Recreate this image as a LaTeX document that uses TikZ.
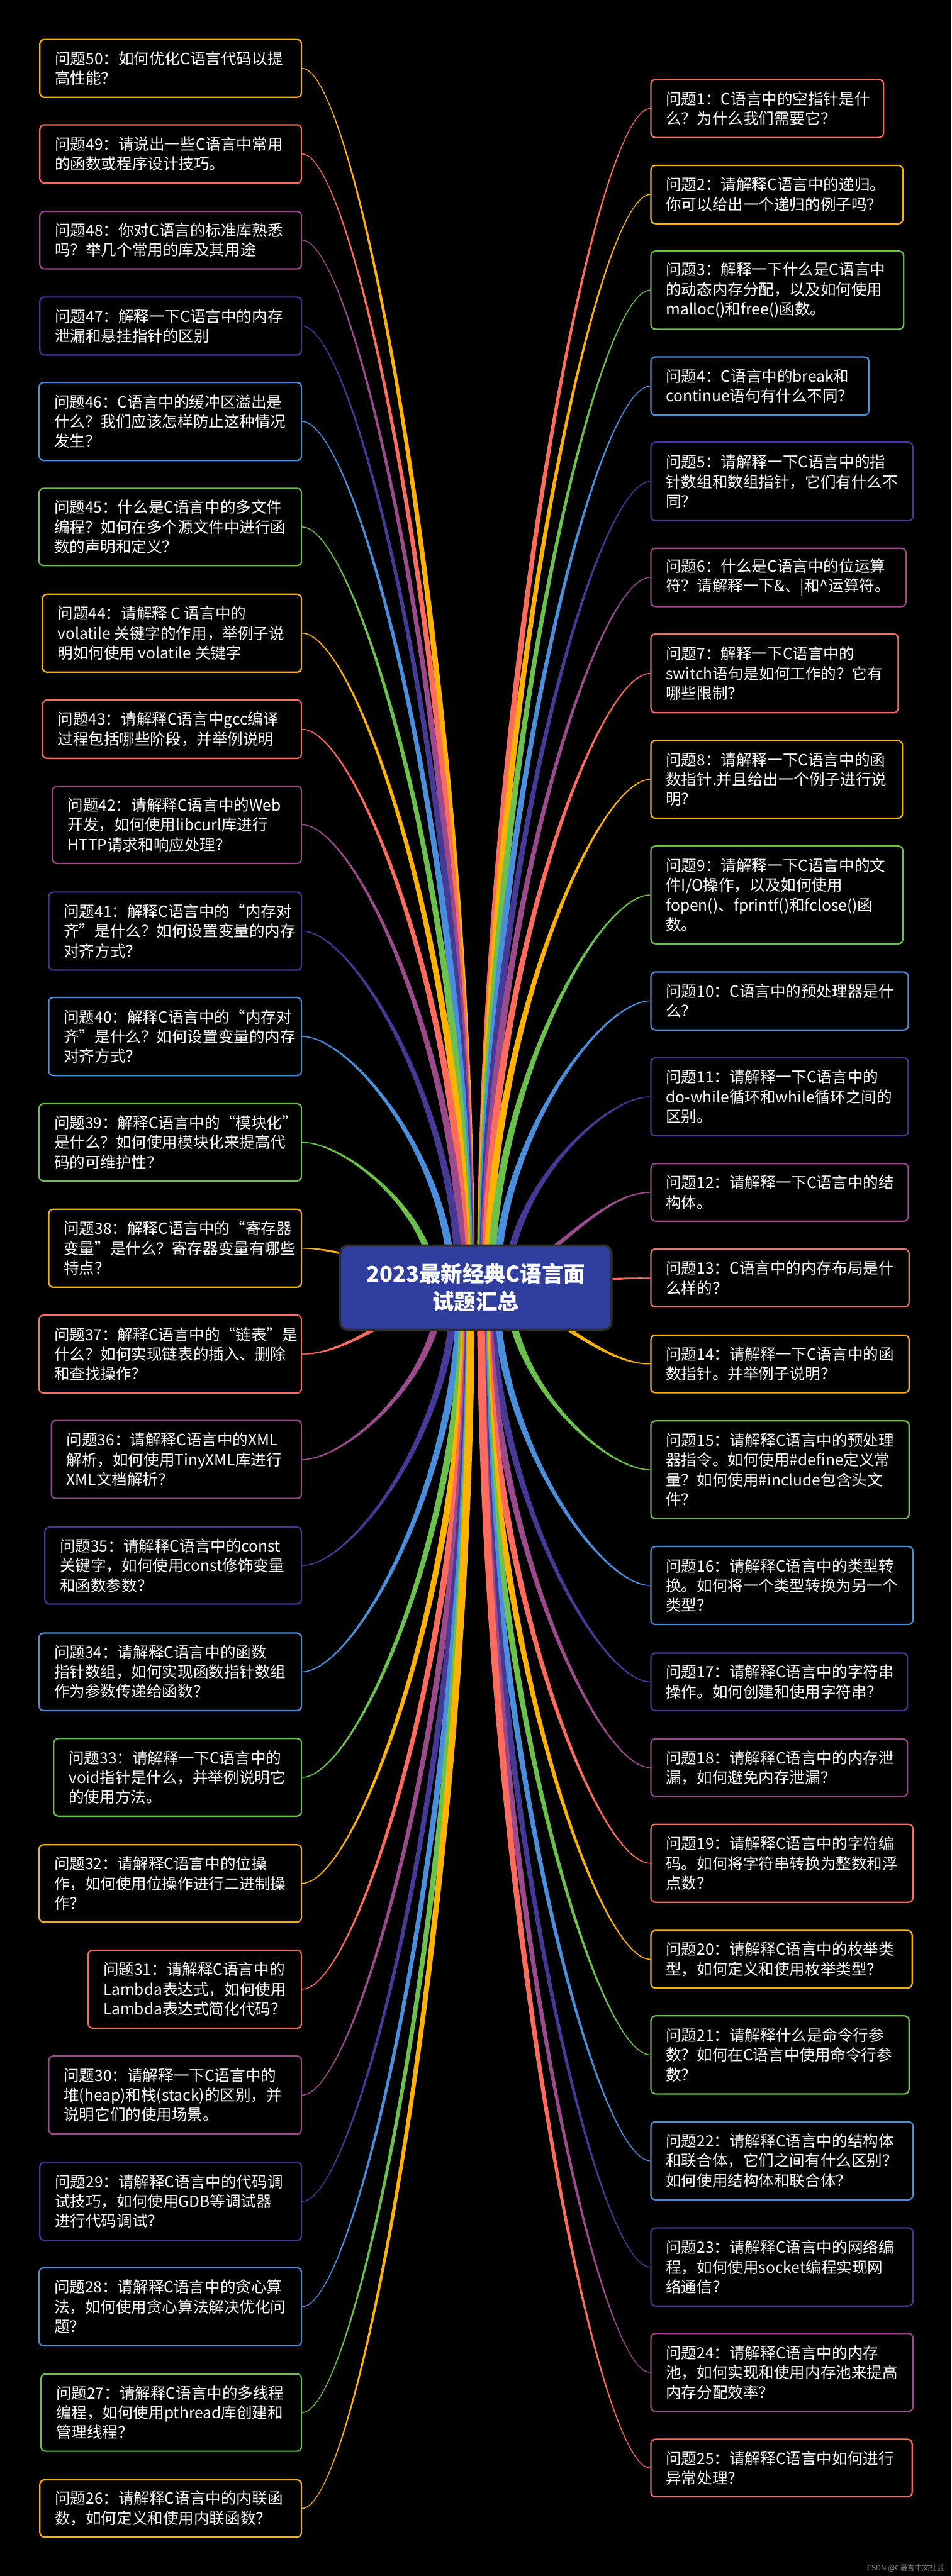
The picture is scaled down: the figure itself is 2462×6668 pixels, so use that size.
\documentclass[tikz,border=0pt]{standalone}
\usepackage{fontspec}
\setmainfont{Noto Sans CJK SC}
\usetikzlibrary{calc,fit}
\definecolor{cO}{HTML}{FFB300}
\definecolor{cR}{HTML}{FF6B5C}
\definecolor{cP}{HTML}{9B4A8C}
\definecolor{cI}{HTML}{453A96}
\definecolor{cB}{HTML}{4A8FDB}
\definecolor{cG}{HTML}{6CC04C}
\definecolor{hubfill}{HTML}{303F9F}
\definecolor{hubedge}{HTML}{2D2D2D}
\definecolor{wmgray}{HTML}{8A8A8A}
\tikzset{
 qbox/.style={rectangle, rounded corners=3pt, line width=0.9pt, inner sep=0pt},
 qtext/.style={align=left, text=white, inner sep=0pt, font=\fontsize{10pt}{12.75pt}\selectfont},
}
\newcommand\qbx[7]{%
 \node[qbox, draw=#2, fit={(#3,#4) (#5,#6)}] (#1) {};
 \node[qtext, anchor=west] (#1t) at ([xshift=10pt]#1.west) {#7};
}
\newcommand\qconn[4]{%
 \pgfpointanchor{#1}{#2}\pgfgetlastxy{\cnbxr}{\cnbyr}%
 \pgfpointanchor{hub}{center}\pgfgetlastxy{\cnhxr}{\cnhyr}%
 \pgfmathsetmacro\cnbx{\cnbxr}\pgfmathsetmacro\cnby{\cnbyr}%
 \pgfmathsetmacro\cnhx{\cnhxr}\pgfmathsetmacro\cnhy{\cnhyr}%
 \pgfmathsetmacro\cnady{abs(\cnhy-\cnby)}%
 \pgfmathsetmacro\cnsu{\cnhy>\cnby ? 1 : -1}%
 \def\cnw{0.28}\def\cnwp{0.85}\def\cnW{2.5}%
 \pgfmathsetmacro\cnBRy{\cnby-(#3)*\cnw}%
 \pgfmathsetmacro\cnBLy{\cnby+(#3)*\cnw}%
 \pgfmathsetmacro\cnPRy{\cnby-(#3)*\cnwp}%
 \pgfmathsetmacro\cnPLy{\cnby+(#3)*\cnwp}%
 \ifdim\cnady pt<75pt
   \pgfmathsetmacro\cnpx{\cnbx+0.33*(\cnhx-\cnbx)}%
   \pgfmathsetmacro\cnqx{\cnhx-0.33*(\cnhx-\cnbx)}%
   \pgfmathsetmacro\cnERy{\cnhy-(#3)*\cnW}%
   \pgfmathsetmacro\cnELy{\cnhy+(#3)*\cnW}%
   \fill[#4] (\cnbx pt,\cnBRy pt) .. controls (\cnpx pt,\cnPRy pt) and (\cnqx pt,\cnERy pt) .. (\cnhx pt,\cnERy pt) -- (\cnhx pt,\cnELy pt) .. controls (\cnqx pt,\cnELy pt) and (\cnpx pt,\cnPLy pt) .. (\cnbx pt,\cnBLy pt) -- cycle;
 \else
   \pgfmathsetmacro\cnex{\cnhx-(#3)*2500/\cnady}%
   \pgfmathsetmacro\cnpx{\cnbx+0.33*(\cnex-\cnbx)}%
   \pgfmathsetmacro\cnqy{(\cnby+\cnhy)/2}%
   \pgfmathsetmacro\cnERx{\cnex+\cnsu*\cnW}%
   \pgfmathsetmacro\cnELx{\cnex-\cnsu*\cnW}%
   \fill[#4] (\cnbx pt,\cnBRy pt) .. controls (\cnpx pt,\cnPRy pt) and (\cnERx pt,\cnqy pt) .. (\cnERx pt,\cnhy pt) -- (\cnELx pt,\cnhy pt) .. controls (\cnELx pt,\cnqy pt) and (\cnpx pt,\cnPLy pt) .. (\cnbx pt,\cnBLy pt) -- cycle;
 \fi
}
\begin{document}
\begin{tikzpicture}[x=0.25pt,y=-0.25pt]
\fill[black] (0,0) rectangle (2462,6668);
\useasboundingbox (0,0) rectangle (2462,6668);
% ---------- left column ----------
\qbx{q50}{cO}{103}{102}{780}{252}{问题50：如何优化C语言代码以提\\高性能？}
\qbx{q49}{cR}{103}{323}{780}{474}{问题49：请说出一些C语言中常用\\的函数或程序设计技巧。}
\qbx{q48}{cP}{103}{547}{780}{696}{问题48：你对C语言的标准库熟悉\\吗？举几个常用的库及其用途}
\qbx{q47}{cI}{103}{769}{780}{919}{问题47：解释一下C语言中的内存\\泄漏和悬挂指针的区别}
\qbx{q46}{cB}{101}{990}{780}{1192}{问题46：C语言中的缓冲区溢出是\\什么？我们应该怎样防止这种情况\\发生？}
\qbx{q45}{cG}{101}{1264}{780}{1464}{问题45：什么是C语言中的多文件\\编程？如何在多个源文件中进行函\\数的声明和定义？}
\qbx{q44}{cO}{110}{1538}{780}{1740}{问题44：请解释 C 语言中的\\volatile 关键字的作用，举例子说\\明如何使用 volatile 关键字}
\qbx{q43}{cR}{110}{1812}{780}{1963}{问题43：请解释C语言中gcc编译\\过程包括哪些阶段，并举例说明}
\qbx{q42}{cP}{136}{2035}{780}{2235}{问题42：请解释C语言中的Web\\开发，如何使用libcurl库进行\\HTTP请求和响应处理？}
\qbx{q41}{cI}{126}{2309}{780}{2511}{问题41：解释C语言中的“内存对\\齐”是什么？如何设置变量的内存\\对齐方式？}
\qbx{q40}{cB}{126}{2582}{780}{2784}{问题40：解释C语言中的“内存对\\齐”是什么？如何设置变量的内存\\对齐方式？}
\qbx{q39}{cG}{101}{2857}{780}{3057}{问题39：解释C语言中的“模块化”\\是什么？如何使用模块化来提高代\\码的可维护性？}
\qbx{q38}{cO}{126}{3130}{780}{3332}{问题38：解释C语言中的“寄存器\\变量”是什么？寄存器变量有哪些\\特点？}
\qbx{q37}{cR}{101}{3404}{780}{3606}{问题37：解释C语言中的“链表”是\\什么？如何实现链表的插入、删除\\和查找操作？}
\qbx{q36}{cP}{133}{3677}{780}{3879}{问题36：请解释C语言中的XML\\解析，如何使用TinyXML库进行\\XML文档解析？}
\qbx{q35}{cI}{116}{3953}{780}{4152}{问题35：请解释C语言中的const\\关键字，如何使用const修饰变量\\和函数参数？}
\qbx{q34}{cB}{101}{4227}{780}{4428}{问题34：请解释C语言中的函数\\指针数组，如何实现函数指针数组\\作为参数传递给函数？}
\qbx{q33}{cG}{139}{4500}{780}{4701}{问题33：请解释一下C语言中的\\void指针是什么，并举例说明它\\的使用方法。}
\qbx{q32}{cO}{101}{4775}{780}{4975}{问题32：请解释C语言中的位操\\作，如何使用位操作进行二进制操\\作？}
\qbx{q31}{cR}{228}{5048}{780}{5250}{问题31：请解释C语言中的\\Lambda表达式，如何使用\\Lambda表达式简化代码？}
\qbx{q30}{cP}{126}{5322}{780}{5524}{问题30：请解释一下C语言中的\\堆(heap)和栈(stack)的区别，并\\说明它们的使用场景。}
\qbx{q29}{cI}{103}{5597}{780}{5799}{问题29：请解释C语言中的代码调\\试技巧，如何使用GDB等调试器\\进行代码调试？}
\qbx{q28}{cB}{101}{5870}{780}{6072}{问题28：请解释C语言中的贪心算\\法，如何使用贪心算法解决优化问\\题？}
\qbx{q27}{cG}{106}{6145}{780}{6345}{问题27：请解释C语言中的多线程\\编程，如何使用pthread库创建和\\管理线程？}
\qbx{q26}{cO}{103}{6419}{780}{6567}{问题26：请解释C语言中的内联函\\数，如何定义和使用内联函数？}
% ---------- right column ----------
\qbx{q1}{cR}{1684}{206}{2286}{356}{问题1：C语言中的空指针是什\\么？为什么我们需要它？}
\qbx{q2}{cO}{1684}{428}{2336}{579}{问题2：请解释C语言中的递归。\\你可以给出一个递归的例子吗？}
\qbx{q3}{cG}{1684}{650}{2338}{852}{问题3：解释一下什么是C语言中\\的动态内存分配，以及如何使用\\malloc()和free()函数。}
\qbx{q4}{cB}{1684}{924}{2248}{1075}{问题4：C语言中的break和\\continue语句有什么不同？}
\qbx{q5}{cI}{1684}{1145}{2362}{1348}{问题5：请解释一下C语言中的指\\针数组和数组指针，它们有什么不\\同？}
\qbx{q6}{cP}{1684}{1419}{2344}{1570}{问题6：什么是C语言中的位运算\\符？请解释一下\&、|和\textasciicircum 运算符。}
\qbx{q7}{cR}{1684}{1641}{2324}{1845}{问题7：解释一下C语言中的\\switch语句是如何工作的？它有\\哪些限制？}
\qbx{q8}{cO}{1684}{1917}{2335}{2118}{问题8：请解释一下C语言中的函\\数指针.并且给出一个例子进行说\\明？}
\qbx{q9}{cG}{1684}{2190}{2336}{2443}{问题9：请解释一下C语言中的文\\件I/O操作，以及如何使用\\fopen()、fprintf()和fclose()函\\数。}
\qbx{q10}{cB}{1684}{2516}{2350}{2666}{问题10：C语言中的预处理器是什\\么？}
\qbx{q11}{cI}{1684}{2738}{2350}{2940}{问题11：请解释一下C语言中的\\do-while循环和while循环之间的\\区别。}
\qbx{q12}{cP}{1684}{3012}{2350}{3161}{问题12：请解释一下C语言中的结\\构体。}
\qbx{q13}{cR}{1684}{3233}{2352}{3383}{问题13：C语言中的内存布局是什\\么样的？}
\qbx{q14}{cO}{1684}{3456}{2352}{3605}{问题14：请解释一下C语言中的函\\数指针。并举例子说明？}
\qbx{q15}{cG}{1684}{3678}{2352}{3931}{问题15：请解释C语言中的预处理\\器指令。如何使用\#define定义常\\量？如何使用\#include包含头文\\件？}
\qbx{q16}{cB}{1684}{4003}{2362}{4205}{问题16：请解释C语言中的类型转\\换。如何将一个类型转换为另一个\\类型？}
\qbx{q17}{cI}{1684}{4279}{2348}{4428}{问题17：请解释C语言中的字符串\\操作。如何创建和使用字符串？}
\qbx{q18}{cP}{1684}{4501}{2348}{4650}{问题18：请解释C语言中的内存泄\\漏，如何避免内存泄漏？}
\qbx{q19}{cR}{1684}{4722}{2362}{4924}{问题19：请解释C语言中的字符编\\码。如何将字符串转换为整数和浮\\点数？}
\qbx{q20}{cO}{1684}{4997}{2360}{5146}{问题20：请解释C语言中的枚举类\\型，如何定义和使用枚举类型？}
\qbx{q21}{cG}{1684}{5218}{2352}{5420}{问题21：请解释什么是命令行参\\数？如何在C语言中使用命令行参\\数？}
\qbx{q22}{cB}{1684}{5492}{2362}{5694}{问题22：请解释C语言中的结构体\\和联合体，它们之间有什么区别？\\如何使用结构体和联合体？}
\qbx{q23}{cI}{1684}{5767}{2362}{5969}{问题23：请解释C语言中的网络编\\程，如何使用socket编程实现网\\络通信？}
\qbx{q24}{cP}{1684}{6040}{2362}{6242}{问题24：请解释C语言中的内存\\池，如何实现和使用内存池来提高\\内存分配效率？}
\qbx{q25}{cR}{1684}{6314}{2360}{6463}{问题25：请解释C语言中如何进行\\异常处理？}
% ---------- connectors ----------
\coordinate (hub) at (1231,3333);
\qconn{q50}{east}{1}{cO}\qconn{q49}{east}{1}{cR}\qconn{q48}{east}{1}{cP}
\qconn{q47}{east}{1}{cI}\qconn{q46}{east}{1}{cB}\qconn{q45}{east}{1}{cG}
\qconn{q44}{east}{1}{cO}\qconn{q43}{east}{1}{cR}\qconn{q42}{east}{1}{cP}
\qconn{q41}{east}{1}{cI}\qconn{q40}{east}{1}{cB}\qconn{q39}{east}{1}{cG}
\qconn{q38}{east}{1}{cO}\qconn{q37}{east}{1}{cR}\qconn{q36}{east}{1}{cP}
\qconn{q35}{east}{1}{cI}\qconn{q34}{east}{1}{cB}\qconn{q33}{east}{1}{cG}
\qconn{q32}{east}{1}{cO}\qconn{q31}{east}{1}{cR}\qconn{q30}{east}{1}{cP}
\qconn{q29}{east}{1}{cI}\qconn{q28}{east}{1}{cB}\qconn{q27}{east}{1}{cG}
\qconn{q26}{east}{1}{cO}
\qconn{q1}{west}{-1}{cR}\qconn{q2}{west}{-1}{cO}\qconn{q3}{west}{-1}{cG}
\qconn{q4}{west}{-1}{cB}\qconn{q5}{west}{-1}{cI}\qconn{q6}{west}{-1}{cP}
\qconn{q7}{west}{-1}{cR}\qconn{q8}{west}{-1}{cO}\qconn{q9}{west}{-1}{cG}
\qconn{q10}{west}{-1}{cB}\qconn{q11}{west}{-1}{cI}\qconn{q12}{west}{-1}{cP}
\qconn{q13}{west}{-1}{cR}\qconn{q14}{west}{-1}{cO}\qconn{q15}{west}{-1}{cG}
\qconn{q16}{west}{-1}{cB}\qconn{q17}{west}{-1}{cI}\qconn{q18}{west}{-1}{cP}
\qconn{q19}{west}{-1}{cR}\qconn{q20}{west}{-1}{cO}\qconn{q21}{west}{-1}{cG}
\qconn{q22}{west}{-1}{cB}\qconn{q23}{west}{-1}{cI}\qconn{q24}{west}{-1}{cP}
\qconn{q25}{west}{-1}{cR}
% ---------- central topic ----------
\node[fill=hubfill, draw=hubedge, line width=1.5pt, rounded corners=5pt, inner sep=0pt, fit={(880,3224) (1582,3442)}] (root) {};
\node[align=center, text=white, inner sep=0pt, font=\bfseries\fontsize{14pt}{18pt}\selectfont] (roottext) at (root.center) {2023最新经典C语言面\\试题汇总};
% ---------- watermark ----------
\node[text=wmgray, inner sep=0pt, font=\fontsize{4.8pt}{6pt}\selectfont] (wm) at (2343,6648) {CSDN @C语言中文社区};
\end{tikzpicture}
\end{document}
